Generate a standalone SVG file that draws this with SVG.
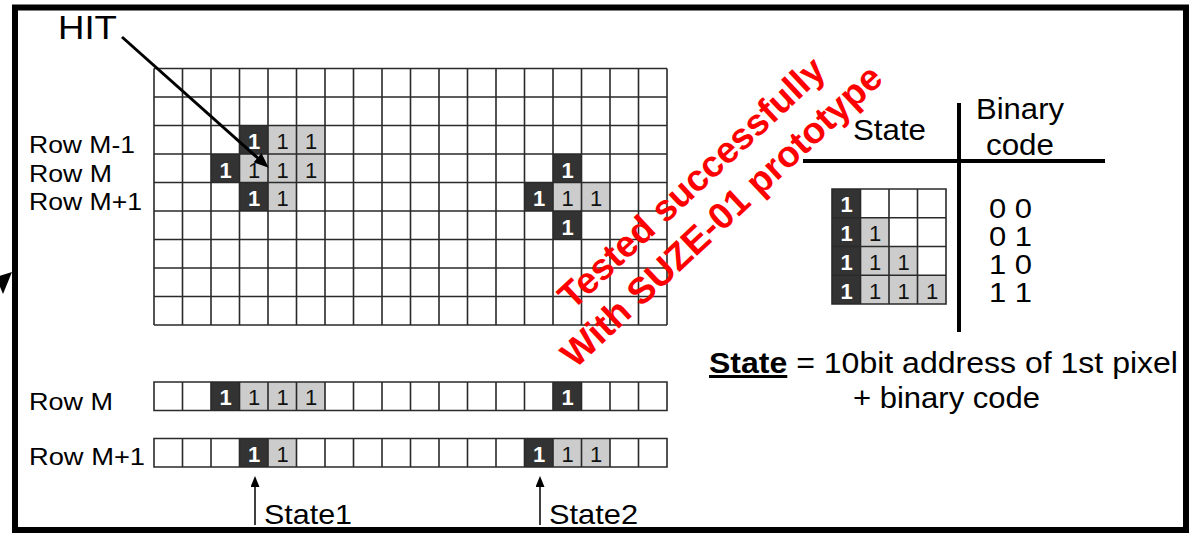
<svg xmlns="http://www.w3.org/2000/svg" width="1190" height="537" viewBox="0 0 1190 537">
<style>
text{font-family:"Liberation Sans",Arial,Helvetica,sans-serif;fill:#000}
.grid{fill:none;stroke:#2a2a2a;stroke-width:1.6}
.dk{fill:#333333}
.lt{fill:#cccccc}
.w1{fill:#ffffff;font-weight:bold;font-size:22px;text-anchor:middle}
.b1{fill:#111;font-size:22px;text-anchor:middle}
.lbl{font-size:24px}
.hdr{font-size:29px}
.code{font-size:28px}
.red{fill:#ff0000;font-weight:bold;font-size:37px;text-anchor:middle}
.conn{stroke:#000;fill:none}
</style>
<defs>
<marker id="headBig" markerUnits="userSpaceOnUse" markerWidth="15" markerHeight="12" viewBox="0 0 15 12" refX="4" refY="6" orient="auto"><path d="M0,0 L15,6 L0,12 z" fill="#000"/></marker>
<marker id="headSmall" markerUnits="userSpaceOnUse" markerWidth="11" markerHeight="9" viewBox="0 0 11 9" refX="3" refY="4.5" orient="auto"><path d="M0,0 L11,4.5 L0,9 z" fill="#000"/></marker>
</defs>
<rect width="1190" height="537" fill="#fff"/>
<rect id="frame" x="15" y="7.5" width="1171" height="522.5" fill="none" stroke="#000" stroke-width="6"/>
<polygon id="edge-arrow" points="-4,277 12,272 3,294" fill="#000"/>

<g id="hit-label"><text x="58" y="39" font-size="33" textLength="59" lengthAdjust="spacingAndGlyphs">HIT</text></g>

<g id="pixel-grid">
<rect x="154" y="68.5" width="513" height="256.5" fill="#fff"/>
<rect class="dk" x="239.5" y="125.5" width="28.5" height="28.5"/>
<rect class="lt" x="268" y="125.5" width="28.5" height="28.5"/>
<rect class="lt" x="296.5" y="125.5" width="28.5" height="28.5"/>
<rect class="dk" x="211" y="154" width="28.5" height="28.5"/>
<rect class="lt" x="239.5" y="154" width="28.5" height="28.5"/>
<rect class="lt" x="268" y="154" width="28.5" height="28.5"/>
<rect class="lt" x="296.5" y="154" width="28.5" height="28.5"/>
<rect class="dk" x="239.5" y="182.5" width="28.5" height="28.5"/>
<rect class="lt" x="268" y="182.5" width="28.5" height="28.5"/>
<rect class="dk" x="553" y="154" width="28.5" height="28.5"/>
<rect class="dk" x="524.5" y="182.5" width="28.5" height="28.5"/>
<rect class="lt" x="553" y="182.5" width="28.5" height="28.5"/>
<rect class="lt" x="581.5" y="182.5" width="28.5" height="28.5"/>
<rect class="dk" x="553" y="211" width="28.5" height="28.5"/>
<path class="grid" d="M154 68.5V325M182.5 68.5V325M211 68.5V325M239.5 68.5V325M268 68.5V325M296.5 68.5V325M325 68.5V325M353.5 68.5V325M382 68.5V325M410.5 68.5V325M439 68.5V325M467.5 68.5V325M496 68.5V325M524.5 68.5V325M553 68.5V325M581.5 68.5V325M610 68.5V325M638.5 68.5V325M667 68.5V325M154 68.5H667M154 97H667M154 125.5H667M154 154H667M154 182.5H667M154 211H667M154 239.5H667M154 268H667M154 296.5H667M154 325H667"/>
<text class="w1" x="254" y="149">1</text>
<text class="b1" x="282.5" y="149">1</text>
<text class="b1" x="311" y="149">1</text>
<text class="w1" x="225.5" y="177.5">1</text>
<text class="b1" x="254" y="177.5">1</text>
<text class="b1" x="282.5" y="177.5">1</text>
<text class="b1" x="311" y="177.5">1</text>
<text class="w1" x="254" y="206">1</text>
<text class="b1" x="282.5" y="206">1</text>
<text class="w1" x="567.5" y="177.5">1</text>
<text class="w1" x="539" y="206">1</text>
<text class="b1" x="567.5" y="206">1</text>
<text class="b1" x="596" y="206">1</text>
<text class="w1" x="567.5" y="234.5">1</text>
</g>

<g id="row-labels">
<text class="lbl" x="29" y="153" textLength="106" lengthAdjust="spacingAndGlyphs">Row M-1</text>
<text class="lbl" x="29" y="182" textLength="83" lengthAdjust="spacingAndGlyphs">Row M</text>
<text class="lbl" x="29" y="210" textLength="113" lengthAdjust="spacingAndGlyphs">Row M+1</text>
</g>

<g id="strip-row-m">
<text class="lbl" x="29" y="410" textLength="84" lengthAdjust="spacingAndGlyphs">Row M</text>
<rect x="154" y="382" width="513" height="28.5" fill="#fff"/>
<rect class="dk" x="211" y="382" width="28.5" height="28.5"/>
<rect class="lt" x="239.5" y="382" width="28.5" height="28.5"/>
<rect class="lt" x="268" y="382" width="28.5" height="28.5"/>
<rect class="lt" x="296.5" y="382" width="28.5" height="28.5"/>
<rect class="dk" x="553" y="382" width="28.5" height="28.5"/>
<path class="grid" d="M154 382H667V410.5H154ZM182.5 382V410.5M211 382V410.5M239.5 382V410.5M268 382V410.5M296.5 382V410.5M325 382V410.5M353.5 382V410.5M382 382V410.5M410.5 382V410.5M439 382V410.5M467.5 382V410.5M496 382V410.5M524.5 382V410.5M553 382V410.5M581.5 382V410.5M610 382V410.5M638.5 382V410.5"/>
<text class="w1" x="225.5" y="405">1</text>
<text class="b1" x="254" y="405">1</text>
<text class="b1" x="282.5" y="405">1</text>
<text class="b1" x="311" y="405">1</text>
<text class="w1" x="567.5" y="405">1</text>
</g>

<g id="strip-row-m1">
<text class="lbl" x="29" y="465" textLength="116" lengthAdjust="spacingAndGlyphs">Row M+1</text>
<rect x="154" y="438.5" width="513" height="28.5" fill="#fff"/>
<rect class="dk" x="239.5" y="438.5" width="28.5" height="28.5"/>
<rect class="lt" x="268" y="438.5" width="28.5" height="28.5"/>
<rect class="dk" x="524.5" y="438.5" width="28.5" height="28.5"/>
<rect class="lt" x="553" y="438.5" width="28.5" height="28.5"/>
<rect class="lt" x="581.5" y="438.5" width="28.5" height="28.5"/>
<path class="grid" d="M154 438.5H667V467H154ZM182.5 438.5V467M211 438.5V467M239.5 438.5V467M268 438.5V467M296.5 438.5V467M325 438.5V467M353.5 438.5V467M382 438.5V467M410.5 438.5V467M439 438.5V467M467.5 438.5V467M496 438.5V467M524.5 438.5V467M553 438.5V467M581.5 438.5V467M610 438.5V467M638.5 438.5V467"/>
<text class="w1" x="254" y="461.5">1</text>
<text class="b1" x="282.5" y="461.5">1</text>
<text class="w1" x="539" y="461.5">1</text>
<text class="b1" x="567.5" y="461.5">1</text>
<text class="b1" x="596" y="461.5">1</text>
</g>

<g id="state1"><text x="264" y="524" font-size="28" textLength="88" lengthAdjust="spacingAndGlyphs">State1</text></g>
<g id="state2"><text x="549" y="524" font-size="28" textLength="89" lengthAdjust="spacingAndGlyphs">State2</text></g>

<g id="connectors">
<line class="conn" x1="122" y1="37" x2="260.5" y2="160.4" stroke-width="3" marker-end="url(#headBig)"/>
<line class="conn" x1="255" y1="525" x2="255" y2="484" stroke-width="1.5" marker-end="url(#headSmall)"/>
<line class="conn" x1="540" y1="525" x2="540" y2="484" stroke-width="1.5" marker-end="url(#headSmall)"/>
</g>

<g id="state-table">
<line x1="959" y1="103" x2="959" y2="332" stroke="#000" stroke-width="4"/>
<line x1="803" y1="161" x2="1105" y2="161" stroke="#000" stroke-width="4"/>
<text class="hdr" x="853" y="140" textLength="73" lengthAdjust="spacingAndGlyphs">State</text>
<text class="hdr" x="976" y="119" textLength="88" lengthAdjust="spacingAndGlyphs">Binary</text>
<text class="hdr" x="986" y="155" textLength="68" lengthAdjust="spacingAndGlyphs">code</text>
<rect x="832" y="189" width="114" height="115" fill="#fff"/>
<rect class="dk" x="832" y="189" width="28.5" height="115"/>
<rect class="lt" x="860.5" y="217.75" width="28.5" height="28.75"/>
<rect class="lt" x="860.5" y="246.5" width="57" height="28.75"/>
<rect class="lt" x="860.5" y="275.25" width="85.5" height="28.75"/>
<path class="grid" d="M832 189H946V304H832ZM860.5 189V304M889 189V304M917.5 189V304M832 217.75H946M832 246.5H946M832 275.25H946"/>
<text class="w1" x="846.5" y="212">1</text>
<text class="w1" x="846.5" y="241">1</text>
<text class="w1" x="846.5" y="270">1</text>
<text class="w1" x="846.5" y="298.5">1</text>
<text class="b1" x="875" y="241">1</text>
<text class="b1" x="875" y="270">1</text>
<text class="b1" x="903.5" y="270">1</text>
<text class="b1" x="875" y="298.5">1</text>
<text class="b1" x="903.5" y="298.5">1</text>
<text class="b1" x="932" y="298.5">1</text>
<text class="code" x="989" y="218" textLength="43" lengthAdjust="spacingAndGlyphs">0 0</text>
<text class="code" x="989" y="246" textLength="43" lengthAdjust="spacingAndGlyphs">0 1</text>
<text class="code" x="989" y="274" textLength="43" lengthAdjust="spacingAndGlyphs">1 0</text>
<text class="code" x="989" y="302" textLength="43" lengthAdjust="spacingAndGlyphs">1 1</text>
</g>

<g id="state-definition">
<text x="709" y="373" font-size="30" textLength="469" lengthAdjust="spacingAndGlyphs"><tspan font-weight="bold" text-decoration="underline">State</tspan> = 10bit address of 1st pixel</text>
<text x="853" y="408" font-size="30" textLength="187" lengthAdjust="spacingAndGlyphs">+ binary code</text>
</g>

<g id="stamp">
<text class="red" transform="translate(700,192) rotate(-43)">Tested successfully</text>
<text class="red" transform="translate(730,225) rotate(-43)">With SUZE-01 prototype</text>
</g>
</svg>
